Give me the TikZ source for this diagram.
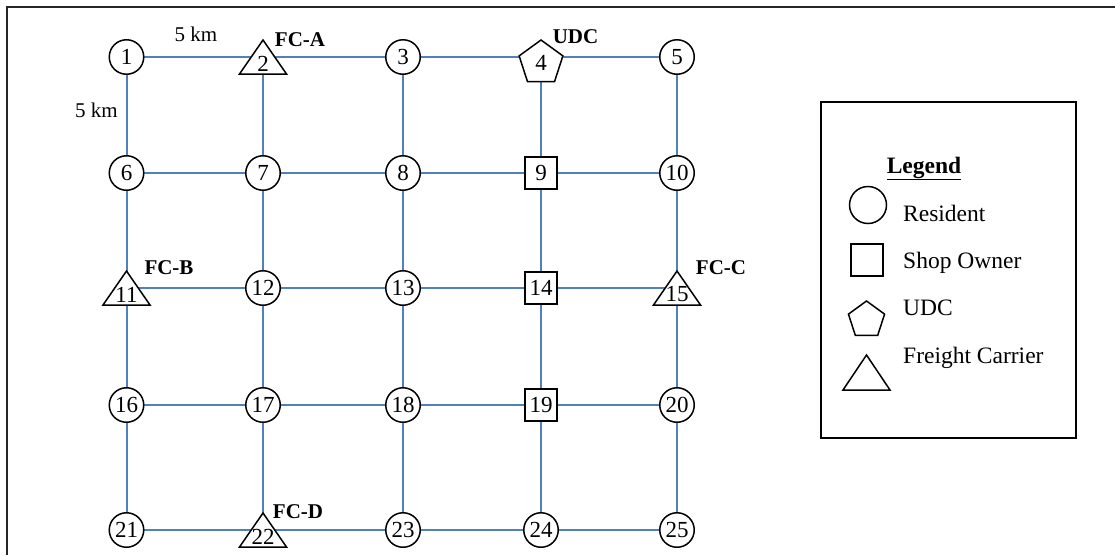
\documentclass[tikz,border=0pt]{standalone}
\usepackage{fontspec}
\setmainfont{Liberation Serif}
\usetikzlibrary{shapes.geometric}
\definecolor{edgeblue}{RGB}{79,129,189}
\begin{document}
\begin{tikzpicture}[x=1pt,y=-1pt,
  numfont/.style={font=\fontsize{23}{25}\selectfont},
  edge/.style={draw=edgeblue,line width=2pt},
  res/.style={circle,draw,fill=white,line width=1.5pt,minimum size=34.5pt,inner sep=0pt,numfont},
  shop/.style={rectangle,draw,fill=white,line width=1.5pt,minimum size=32pt,inner sep=0pt,numfont},
  udcs/.style={regular polygon,regular polygon sides=5,draw,fill=white,line width=1.5pt,minimum size=46pt,inner sep=0pt,numfont},
  trishape/.style={draw,fill=white,line width=1.5pt,line join=miter},
  tritext/.style={inner sep=0pt,numfont},
  lab/.style={inner sep=0pt,anchor=base,font=\fontsize{21}{24}\selectfont\bfseries},
  dist/.style={inner sep=0pt,anchor=base,font=\fontsize{21}{24}\selectfont},
  legtext/.style={inner sep=0pt,anchor=base west,font=\fontsize{23.5}{26}\selectfont},
]
\useasboundingbox (0,0) rectangle (1115,555);
% frame
\draw[line width=1.3pt,black!85] (7,555) -- (7,7) -- (1115,7);

% grid points
\foreach \yy [count=\r from 0] in {57,173,288,405,530}{
  \foreach \xx [count=\c] in {126.5,263,403,541,677}{
    \pgfmathtruncatemacro\k{5*\r+\c}
    \coordinate (p\k) at (\xx,\yy);
  }
}
% edges
\foreach \r in {0,...,4}{
  \foreach \c in {1,...,4}{
    \pgfmathtruncatemacro\a{5*\r+\c}
    \pgfmathtruncatemacro\b{\a+1}
    \draw[edge] (p\a) -- (p\b);
  }
}
\foreach \a in {1,...,20}{
  \pgfmathtruncatemacro\b{\a+5}
  \draw[edge] (p\a) -- (p\b);
}
% residents
\foreach \k in {1,3,5,6,7,8,10,12,13,16,17,18,20,21,23,24,25}{
  \node[res] (n\k) at (p\k) {\k};
}
% shop owners
\foreach \k in {9,14,19}{
  \node[shop] (n\k) at (p\k) {\k};
}
% UDC
\node[udcs] (n4) at (541,63) {4};
% freight carriers
\foreach \k in {2,11,15,22}{
  \draw[trishape] (p\k) ++(0,-17) -- ++(23.5,34) -- ++(-47,0) -- cycle;
  \node[tritext] (n\k) at ([yshift=-6.5pt]p\k) {\k};
}
% labels
\node[dist] (d1) at (196,41.5) {5 km};
\node[dist] (d2) at (96.5,117) {5 km};
\node[lab] (fca) at (300,46) {FC-A};
\node[lab] (udcl) at (575.5,43) {UDC};
\node[lab] (fcb) at (169,274) {FC-B};
\node[lab] (fcc) at (721,274.5) {FC-C};
\node[lab] (fcd) at (298,518) {FC-D};

% legend
\node[draw,line width=1.3pt,minimum width=255pt,minimum height=336pt,inner sep=0pt] (legbox) at (948.5,270) {};
\node[inner sep=0pt,anchor=base,font=\fontsize{23.5}{26}\selectfont\bfseries] (legtitle) at (924,173) {\underline{Legend}};
\node[circle,draw,line width=1.5pt,minimum size=37pt,inner sep=0pt] (lc) at (868,205) {};
\node[rectangle,draw,line width=1.5pt,minimum size=32pt,inner sep=0pt] (ls) at (867,260) {};
\node[regular polygon,regular polygon sides=5,draw,line width=1.5pt,minimum size=38pt,inner sep=0pt] (lp) at (866.5,320) {};
\draw[trishape] (866.5,355) -- (890,390) -- (843,390) -- cycle;
\node[legtext] (t1) at (903,221) {Resident};
\node[legtext] (t2) at (903,268) {Shop Owner};
\node[legtext] (t3) at (903,315) {UDC};
\node[legtext] (t4) at (903,363) {Freight Carrier};
\end{tikzpicture}
\end{document}
